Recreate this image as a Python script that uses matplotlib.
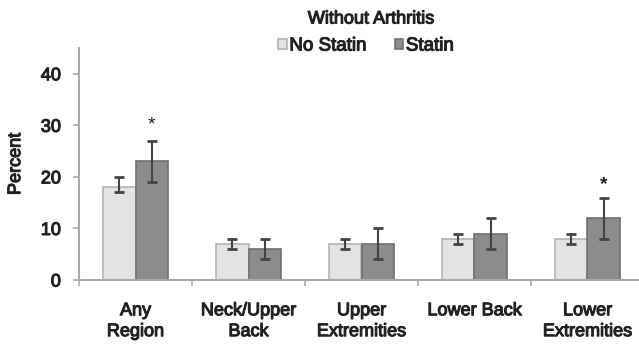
import matplotlib
matplotlib.use("Agg")
import matplotlib.pyplot as plt
import matplotlib.patheffects as pe
import numpy as np

plt.rcParams['font.family'] = ['Liberation Sans', 'DejaVu Sans']

categories = ["Any\nRegion", "Neck/Upper\nBack", "Upper\nExtremities", "Lower Back", "Lower\nExtremities"]
no_statin = [18, 7, 7, 8, 8]
no_statin_low = [17, 6, 6, 7, 7]
no_statin_high = [20, 8, 8, 9, 9]
statin = [23, 6, 7, 9, 12]
statin_low = [19, 4, 4, 6, 8]
statin_high = [27, 8, 10, 12, 16]
star_positions = [(0, 30), (4, 18.6)]
yticks = [0, 10, 20, 30, 40]

W, H = 639, 347
fig = plt.figure(figsize=(W / 100, H / 100), dpi=100)
ax = fig.add_axes([79 / W, 67 / H, 565 / W, 232 / H])

tcol = "#222222"
thick = [pe.withStroke(linewidth=0.8, foreground=tcol)]

x = np.arange(len(categories))
bw = 0.29
off = 0.145
light = "#e3e3e3"
dark = "#8c8c8c"
ecol = "#444444"

ns = np.array(no_statin); st = np.array(statin)
ns_err = [ns - np.array(no_statin_low), np.array(no_statin_high) - ns]
st_err = [st - np.array(statin_low), np.array(statin_high) - st]

b1 = ax.bar(x - off, ns, bw, color=light, edgecolor="#b5b5b5", linewidth=1.2, label="No Statin", zorder=2)
b2 = ax.bar(x + off, st, bw, color=dark, edgecolor="#707070", linewidth=1.2, label="Statin", zorder=2)
ax.errorbar(x - off, ns, yerr=ns_err, fmt="none", ecolor=ecol, elinewidth=1.5, capsize=3.5, capthick=2, zorder=3)
ax.errorbar(x + off, st, yerr=st_err, fmt="none", ecolor=ecol, elinewidth=1.5, capsize=3.5, capthick=2, zorder=3)

for i, (ci, val) in enumerate(star_positions):
    ax.text(ci + off, val, "*", ha="center", va="center", fontsize=14, color=tcol,
            fontweight="bold" if i == 1 else "normal")

ax.set_xlim(-0.5, len(categories) - 0.5)
ax.set_ylim(0, 45)
ax.set_yticks(yticks)
ax.set_yticklabels([str(v) for v in yticks], fontsize=13, color=tcol)
ax.set_xticks(x)
ax.set_xticklabels(categories, fontsize=13, linespacing=1.3, color=tcol)
ax.set_xticks(np.arange(len(categories) + 1) - 0.5, minor=True)
ax.tick_params(axis="x", which="major", length=0, pad=16)
ax.tick_params(axis="x", which="minor", length=4, color="#aaaaaa", width=1.2)
ax.tick_params(axis="y", length=4, color="#aaaaaa", width=1.2, pad=9)
ax.set_ylabel("Percent", fontsize=13, labelpad=12, color=tcol)
for t in ax.get_xticklabels() + ax.get_yticklabels() + [ax.yaxis.label]:
    t.set_path_effects(thick)

for s in ["top", "right"]:
    ax.spines[s].set_visible(False)
for s in ["left", "bottom"]:
    ax.spines[s].set_color("#aaaaaa")
    ax.spines[s].set_linewidth(1.5)

ttl = fig.text(371 / W, 1 - 19 / H, "Without Arthritis", ha="center", va="center", fontsize=13, color=tcol)
ttl.set_path_effects(thick)
leg = fig.legend(handles=[b1, b2], loc="center", bbox_to_anchor=(366 / W, 1 - 46 / H), ncol=2,
                 frameon=False, fontsize=13.5, handlelength=0.45, handleheight=0.45,
                 handletextpad=0.15, columnspacing=1.5, borderpad=0)
for t in leg.get_texts():
    t.set_color(tcol)
    t.set_path_effects(thick)

fig.savefig("out.png", dpi=100)
